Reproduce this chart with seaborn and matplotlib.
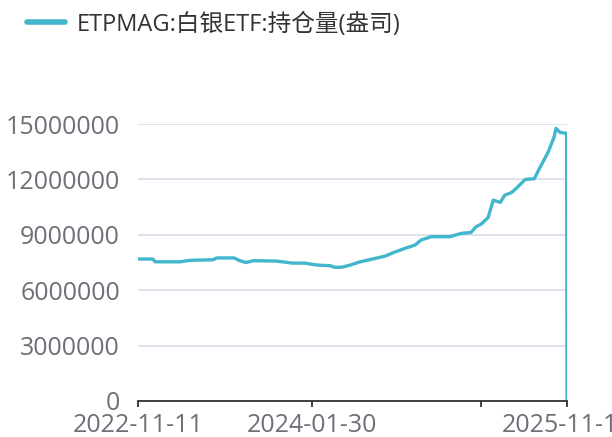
import pandas as pd
import matplotlib
matplotlib.use("Agg")
import matplotlib.pyplot as plt
import seaborn as sns

# ETPMAG silver ETF holdings (ounces)
dates = [
    "2022-11-11", "2022-12-19", "2022-12-25", "2023-02-27", "2023-03-24",
    "2023-05-22", "2023-06-01", "2023-07-15", "2023-07-30", "2023-08-15",
    "2023-09-02", "2023-10-31", "2023-11-23", "2023-12-11", "2024-01-13",
    "2024-01-26", "2024-02-15", "2024-03-17", "2024-03-30", "2024-04-17",
    "2024-05-07", "2024-06-02", "2024-07-10", "2024-08-05", "2024-08-31",
    "2024-09-25", "2024-10-21", "2024-11-05", "2024-12-01", "2025-01-18",
    "2025-02-16", "2025-03-13", "2025-03-26", "2025-04-08", "2025-04-26",
    "2025-05-09", "2025-05-27", "2025-06-08", "2025-06-24", "2025-07-07",
    "2025-07-30", "2025-08-22", "2025-09-09", "2025-09-27", "2025-10-12",
    "2025-10-17", "2025-10-27", "2025-11-13", "2025-11-14",
]
holdings = [
    7690000, 7690000, 7540000, 7540000, 7620000,
    7650000, 7750000, 7750000, 7600000, 7500000,
    7600000, 7580000, 7520000, 7470000, 7470000,
    7420000, 7360000, 7330000, 7240000, 7250000,
    7360000, 7540000, 7720000, 7850000, 8080000,
    8270000, 8450000, 8720000, 8900000, 8900000,
    9080000, 9130000, 9440000, 9580000, 9940000,
    10880000, 10760000, 11160000, 11280000, 11520000,
    12000000, 12040000, 12780000, 13500000, 14310000,
    14770000, 14550000, 14500000, 0,
]
series_name = "ETPMAG:白银ETF:持仓量(盎司)"
tick_dates = ["2022-11-11", "2024-01-30", "2025-04-08", "2025-11-14"]
tick_labels = ["2022-11-11", "2024-01-30", "", "2025-11-14"]
y_ticks = [0, 3000000, 6000000, 9000000, 12000000, 15000000]

df = pd.DataFrame({"date": pd.to_datetime(dates), "value": holdings})

sns.set_theme(style="white")
plt.rcParams["font.family"] = ["Open Sans", "Noto Sans CJK SC", "DejaVu Sans"]

fig = plt.figure(figsize=(6.12, 4.37), dpi=100)
ax = fig.add_axes([0.2255, 0.0824, 0.701, 0.6336])

line_color = "#41b6cd"
sns.lineplot(data=df, x="date", y="value", ax=ax, color=line_color,
             linewidth=2.4, label=series_name)

ax.set_ylim(0, 15000000)
ax.set_xlim(pd.Timestamp(tick_dates[0]), pd.Timestamp(tick_dates[-1]))
ax.set_yticks(y_ticks)
ax.set_yticklabels([str(v) for v in y_ticks])
ax.set_xticks(pd.to_datetime(tick_dates))
ax.set_xticklabels(tick_labels)
ax.set_xlabel("")
ax.set_ylabel("")

ax.grid(axis="y", color="#dadde7", linewidth=1.2)
ax.set_axisbelow(True)
for s in ["left", "right", "top"]:
    ax.spines[s].set_visible(False)
ax.spines["bottom"].set_color("#333333")
ax.spines["bottom"].set_linewidth(1.3)
ax.tick_params(axis="y", length=0, pad=13, labelsize=18, labelcolor="#6e7079")
ax.tick_params(axis="x", length=4.5, width=1.3, color="#333333", pad=4,
               labelsize=18, labelcolor="#6e7079", bottom=True)

leg = ax.legend(loc="upper left", bbox_to_anchor=(0.01, 1.02),
                bbox_transform=fig.transFigure, frameon=False,
                fontsize=17, handlelength=1.6, handletextpad=0.5)
for h in leg.get_lines():
    h.set_linewidth(4)
for t in leg.get_texts():
    t.set_color("#333333")

fig.savefig("out.png", dpi=100)
